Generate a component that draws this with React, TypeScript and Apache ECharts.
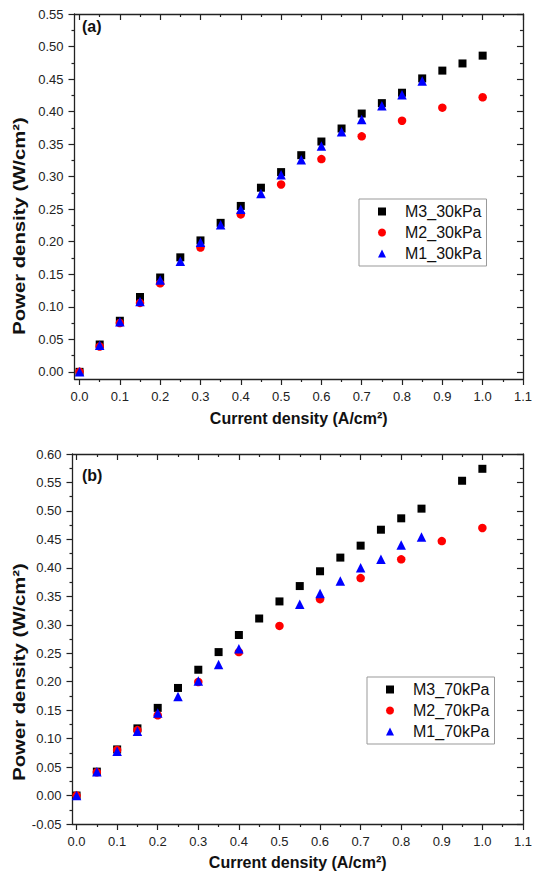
import React, { useEffect, useRef } from "react";
import * as echarts from "echarts";

// ---------- data: (a) 30 kPa ----------
const m3_30_x = [0, 0.05, 0.1, 0.15, 0.2, 0.25, 0.3, 0.35, 0.4, 0.45, 0.5, 0.55, 0.6, 0.65, 0.7, 0.75, 0.8, 0.85, 0.9, 0.95, 1.0];
const m3_30_y = [0, 0.042, 0.0785, 0.115, 0.145, 0.176, 0.202, 0.229, 0.255, 0.283, 0.307, 0.333, 0.354, 0.374, 0.397, 0.413, 0.429, 0.451, 0.463, 0.474, 0.486];
const m2_30_x = [0, 0.05, 0.1, 0.15, 0.2, 0.3, 0.4, 0.5, 0.6, 0.7, 0.8, 0.9, 1.0];
const m2_30_y = [0, 0.039, 0.075, 0.106, 0.136, 0.191, 0.242, 0.288, 0.327, 0.362, 0.386, 0.406, 0.422];
const m1_30_x = [0, 0.05, 0.1, 0.15, 0.2, 0.25, 0.3, 0.35, 0.4, 0.45, 0.5, 0.55, 0.6, 0.65, 0.7, 0.75, 0.8, 0.85];
const m1_30_y = [0, 0.041, 0.077, 0.108, 0.141, 0.17, 0.199, 0.226, 0.25, 0.274, 0.303, 0.326, 0.347, 0.369, 0.388, 0.409, 0.426, 0.447];

// ---------- data: (b) 70 kPa ----------
const m3_70_x = [0, 0.05, 0.1, 0.15, 0.2, 0.25, 0.3, 0.35, 0.4, 0.45, 0.5, 0.55, 0.6, 0.65, 0.7, 0.75, 0.8, 0.85, 0.95, 1.0];
const m3_70_y = [0, 0.042, 0.081, 0.118, 0.154, 0.189, 0.221, 0.252, 0.282, 0.311, 0.341, 0.368, 0.394, 0.418, 0.439, 0.467, 0.487, 0.504, 0.553, 0.574];
const m2_70_x = [0, 0.05, 0.1, 0.15, 0.2, 0.3, 0.4, 0.5, 0.6, 0.7, 0.8, 0.9, 1.0];
const m2_70_y = [0, 0.041, 0.08, 0.115, 0.141, 0.1995, 0.252, 0.298, 0.345, 0.382, 0.415, 0.447, 0.47];
const m1_70_x = [0, 0.05, 0.1, 0.15, 0.2, 0.25, 0.3, 0.35, 0.4, 0.55, 0.6, 0.65, 0.7, 0.75, 0.8, 0.85];
const m1_70_y = [0, 0.042, 0.078, 0.113, 0.145, 0.174, 0.201, 0.23, 0.258, 0.336, 0.355, 0.377, 0.4, 0.415, 0.44, 0.454];

// ---------- ticks ----------
const xMajor = [0, 0.1, 0.2, 0.3, 0.4, 0.5, 0.6, 0.7, 0.8, 0.9, 1.0, 1.1];
const xMinor = [0.05, 0.15, 0.25, 0.35, 0.45, 0.55, 0.65, 0.75, 0.85, 0.95, 1.05];
const yMajorA = [0, 0.05, 0.1, 0.15, 0.2, 0.25, 0.3, 0.35, 0.4, 0.45, 0.5, 0.55];
const yMinorA = [0.025, 0.075, 0.125, 0.175, 0.225, 0.275, 0.325, 0.375, 0.425, 0.475, 0.525];
const yMajorB = [-0.05, 0, 0.05, 0.1, 0.15, 0.2, 0.25, 0.3, 0.35, 0.4, 0.45, 0.5, 0.55, 0.6];
const yMinorB = [-0.025, 0.025, 0.075, 0.125, 0.175, 0.225, 0.275, 0.325, 0.375, 0.425, 0.475, 0.525, 0.575];

const seriesNamesA = ["M3_30kPa", "M2_30kPa", "M1_30kPa"];
const seriesNamesB = ["M3_70kPa", "M2_70kPa", "M1_70kPa"];
const xTitle = "Current density (A/cm²)";
const yTitle = "Power density (W/cm²)";

const FONT = "'Liberation Sans', Arial, Helvetica, sans-serif";
const AXIS_COLOR = "#222";

const zip = (xs: number[], ys: number[]) => xs.map((x, i) => [x, ys[i]]);

function makeAxis(opts: {
  gridIndex: number;
  min: number;
  max: number;
  position: string;
  ticks: number[];
  len: number;
  inside: boolean;
  labels?: number[];
  digits?: number;
  line?: boolean;
  name?: string;
  nameGap?: number;
}) {
  return {
    type: "value",
    gridIndex: opts.gridIndex,
    min: opts.min,
    max: opts.max,
    position: opts.position,
    name: opts.name || "",
    nameLocation: "middle",
    nameGap: opts.nameGap || 0,
    nameTextStyle: {
      fontFamily: FONT,
      fontWeight: "bold",
      fontSize: 16,
      color: "#111",
    },
    axisLine: { show: !!opts.line, onZero: false, lineStyle: { color: AXIS_COLOR, width: 1.3 } },
    axisTick: {
      show: true,
      inside: opts.inside,
      length: opts.len,
      customValues: opts.ticks,
      lineStyle: { color: AXIS_COLOR, width: 1.2 },
    },
    axisLabel: opts.labels
      ? {
          show: true,
          customValues: opts.labels,
          margin: 11,
          fontFamily: FONT,
          fontSize: 13,
          color: "#222",
          formatter: (v: number) => v.toFixed(opts.digits || 1),
        }
      : { show: false },
    splitLine: { show: false },
  };
}

function buildOption() {
  const grids = [
    { left: 74.5, top: 14, width: 451, height: 365 },
    { left: 72.5, top: 454, width: 455, height: 370 },
  ];
  const xr = [
    [-0.0125, 1.1],
    [-0.01, 1.1],
  ];
  const yr = [
    [-0.011, 0.55],
    [-0.05, 0.6],
  ];
  const yMaj = [yMajorA, yMajorB];
  const yMin = [yMinorA, yMinorB];
  const xAxes: any[] = [];
  const yAxes: any[] = [];
  for (let g = 0; g < 2; g++) {
    const [x0, x1] = xr[g];
    const [y0, y1] = yr[g];
    xAxes.push(
      makeAxis({ gridIndex: g, min: x0, max: x1, position: "bottom", ticks: xMajor, len: 6, inside: false, labels: xMajor, digits: 1, line: true, name: xTitle, nameGap: g === 0 ? 31 : 30 }),
      makeAxis({ gridIndex: g, min: x0, max: x1, position: "bottom", ticks: xMinor, len: 3, inside: false }),
      makeAxis({ gridIndex: g, min: x0, max: x1, position: "top", ticks: xMajor, len: 6, inside: true, line: true }),
      makeAxis({ gridIndex: g, min: x0, max: x1, position: "top", ticks: xMinor, len: 3, inside: true })
    );
    yAxes.push(
      makeAxis({ gridIndex: g, min: y0, max: y1, position: "left", ticks: yMaj[g], len: 6, inside: false, labels: yMaj[g], digits: 2, line: true }),
      makeAxis({ gridIndex: g, min: y0, max: y1, position: "left", ticks: yMin[g], len: 3, inside: false }),
      makeAxis({ gridIndex: g, min: y0, max: y1, position: "right", ticks: yMaj[g], len: 6, inside: true, line: true }),
      makeAxis({ gridIndex: g, min: y0, max: y1, position: "right", ticks: yMin[g], len: 3, inside: true })
    );
  }

  const mk = (name: string, g: number, symbol: string, size: number, color: string, data: number[][]) => ({
    name,
    type: "scatter",
    xAxisIndex: g * 4,
    yAxisIndex: g * 4,
    symbol,
    symbolSize: size,
    itemStyle: { color, opacity: 1 },
    data,
  });

  const series = [
    mk(seriesNamesA[0], 0, "rect", 8, "#000000", zip(m3_30_x, m3_30_y)),
    mk(seriesNamesA[1], 0, "circle", 8.5, "#ff0000", zip(m2_30_x, m2_30_y)),
    mk(seriesNamesA[2], 0, "triangle", 9.5, "#0000ff", zip(m1_30_x, m1_30_y)),
    mk(seriesNamesB[0], 1, "rect", 8, "#000000", zip(m3_70_x, m3_70_y)),
    mk(seriesNamesB[1], 1, "circle", 8.5, "#ff0000", zip(m2_70_x, m2_70_y)),
    mk(seriesNamesB[2], 1, "triangle", 9.5, "#0000ff", zip(m1_70_x, m1_70_y)),
  ];

  const icons = ["rect", "circle", "triangle"];
  const legendBase = {
    orient: "vertical",
    borderColor: "#999",
    borderWidth: 1,
    itemWidth: 8,
    itemHeight: 8,
    itemGap: 0,
    padding: [2, 5, 2, 19],
    textStyle: { fontFamily: FONT, fontSize: 16, color: "#111", lineHeight: 21, padding: [0, 0, 0, 14] },
  };

  const yTitleGraphic = (y: number) => ({
    type: "text",
    x: 19,
    y,
    rotation: Math.PI / 2,
    scaleX: 1.27,
    style: {
      text: yTitle,
      font: `bold 16px ${FONT}`,
      fill: "#111",
      align: "center",
      verticalAlign: "middle",
    },
  });

  return {
    animation: false,
    backgroundColor: "#ffffff",
    grid: grids,
    xAxis: xAxes,
    yAxis: yAxes,
    legend: [
      { ...legendBase, left: 359, top: 199, data: seriesNamesA.map((n, i) => ({ name: n, icon: icons[i] })) },
      { ...legendBase, left: 367, top: 677, data: seriesNamesB.map((n, i) => ({ name: n, icon: icons[i] })) },
    ],
    graphic: [
      { type: "text", left: 82, top: 18, style: { text: "(a)", font: `bold 16px ${FONT}`, fill: "#111" } },
      { type: "text", left: 82, top: 467, style: { text: "(b)", font: `bold 16px ${FONT}`, fill: "#111" } },
      yTitleGraphic(226),
      yTitleGraphic(672),
    ],
    series,
  };
}

export default function App() {
  const ref = useRef<HTMLDivElement>(null);
  useEffect(() => {
    if (!ref.current) return;
    const chart = echarts.init(ref.current, undefined, { renderer: "svg" });
    chart.setOption(buildOption() as any);
    return () => chart.dispose();
  }, []);
  return <div ref={ref} style={{ position: "fixed", left: 0, top: 0, width: 535, height: 874, background: "#fff" }} />;
}
